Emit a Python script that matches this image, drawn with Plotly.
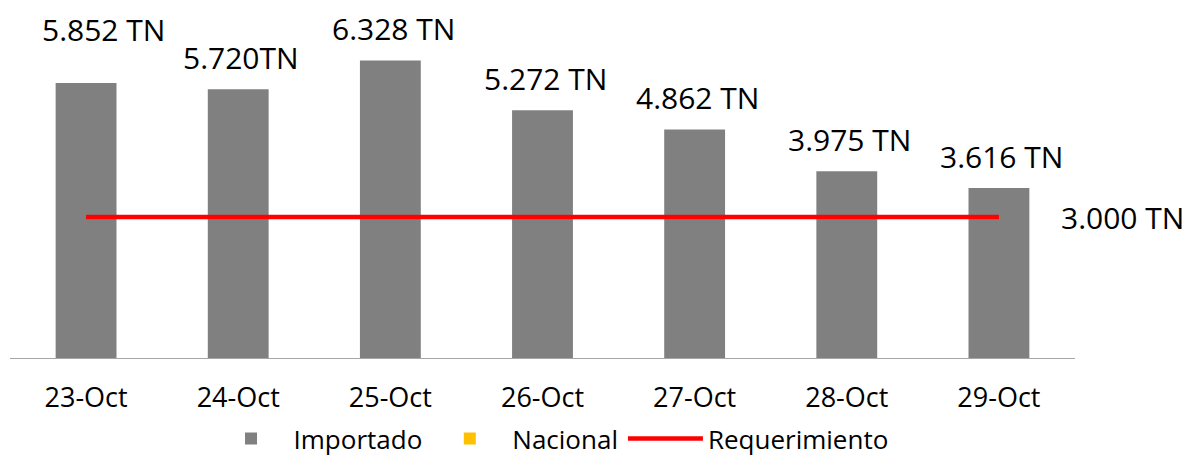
import plotly.graph_objects as go

categories = ["23-Oct", "24-Oct", "25-Oct", "26-Oct", "27-Oct", "28-Oct", "29-Oct"]
importado = [5852, 5720, 6328, 5272, 4862, 3975, 3616]
nacional = [0, 0, 0, 0, 0, 0, 0]
requerimiento = [3000, 3000, 3000, 3000, 3000, 3000, 3000]
value_labels = ["5.852 TN", "5.720TN", "6.328 TN", "5.272 TN", "4.862 TN", "3.975 TN", "3.616 TN"]
req_label = "3.000 TN"

FONT = "Open Sans"

fig = go.Figure()
fig.add_trace(go.Bar(x=categories, y=importado, name="Importado",
                     marker=dict(color="#808080", line=dict(width=0))))
fig.add_trace(go.Bar(x=categories, y=nacional, name="Nacional",
                     marker=dict(color="#FFC000", line=dict(width=0))))
fig.add_trace(go.Scatter(x=categories, y=requerimiento, name="Requerimiento",
                         mode="lines", line=dict(color="#FF0000", width=4.5)))

for i, (c, v, t) in enumerate(zip(categories, importado, value_labels)):
    fig.add_annotation(x=c, y=v, text=t, showarrow=False, yanchor="middle",
                       yshift=53 if i == 0 else 32, xshift=17 if i == 0 else 3,
                       font=dict(family=FONT, size=30, color="#000000"))

fig.add_annotation(xref="paper", x=1.0, y=requerimiento[-1], text=req_label,
                   showarrow=False, xanchor="left", yanchor="middle", xshift=-16,
                   font=dict(family=FONT, size=30, color="#000000"))

# the page adds an 8px body margin, so margins are offset to compensate
fig.update_layout(
    width=1190, height=455,
    margin=dict(l=2, r=123, t=21, b=105, autoexpand=False),
    paper_bgcolor="white", plot_bgcolor="white",
    barmode="overlay", bargap=0.6,
    font=dict(family=FONT, size=27, color="#000000"),
    showlegend=True,
    legend=dict(orientation="h", x=0.508, xanchor="center", y=-0.245, yanchor="middle",
                font=dict(family=FONT, size=26, color="#000000"), itemwidth=75,
                traceorder="normal"),
)
fig.update_xaxes(showline=True, linecolor="#A6A6A6", linewidth=1, ticks="",
                 ticklabelstandoff=16, tickfont=dict(family=FONT, size=27),
                 showgrid=False, automargin=False)
fig.update_yaxes(range=[0, 7000], visible=False, showgrid=False, zeroline=False,
                 automargin=False)

fig.write_html("out.html")
